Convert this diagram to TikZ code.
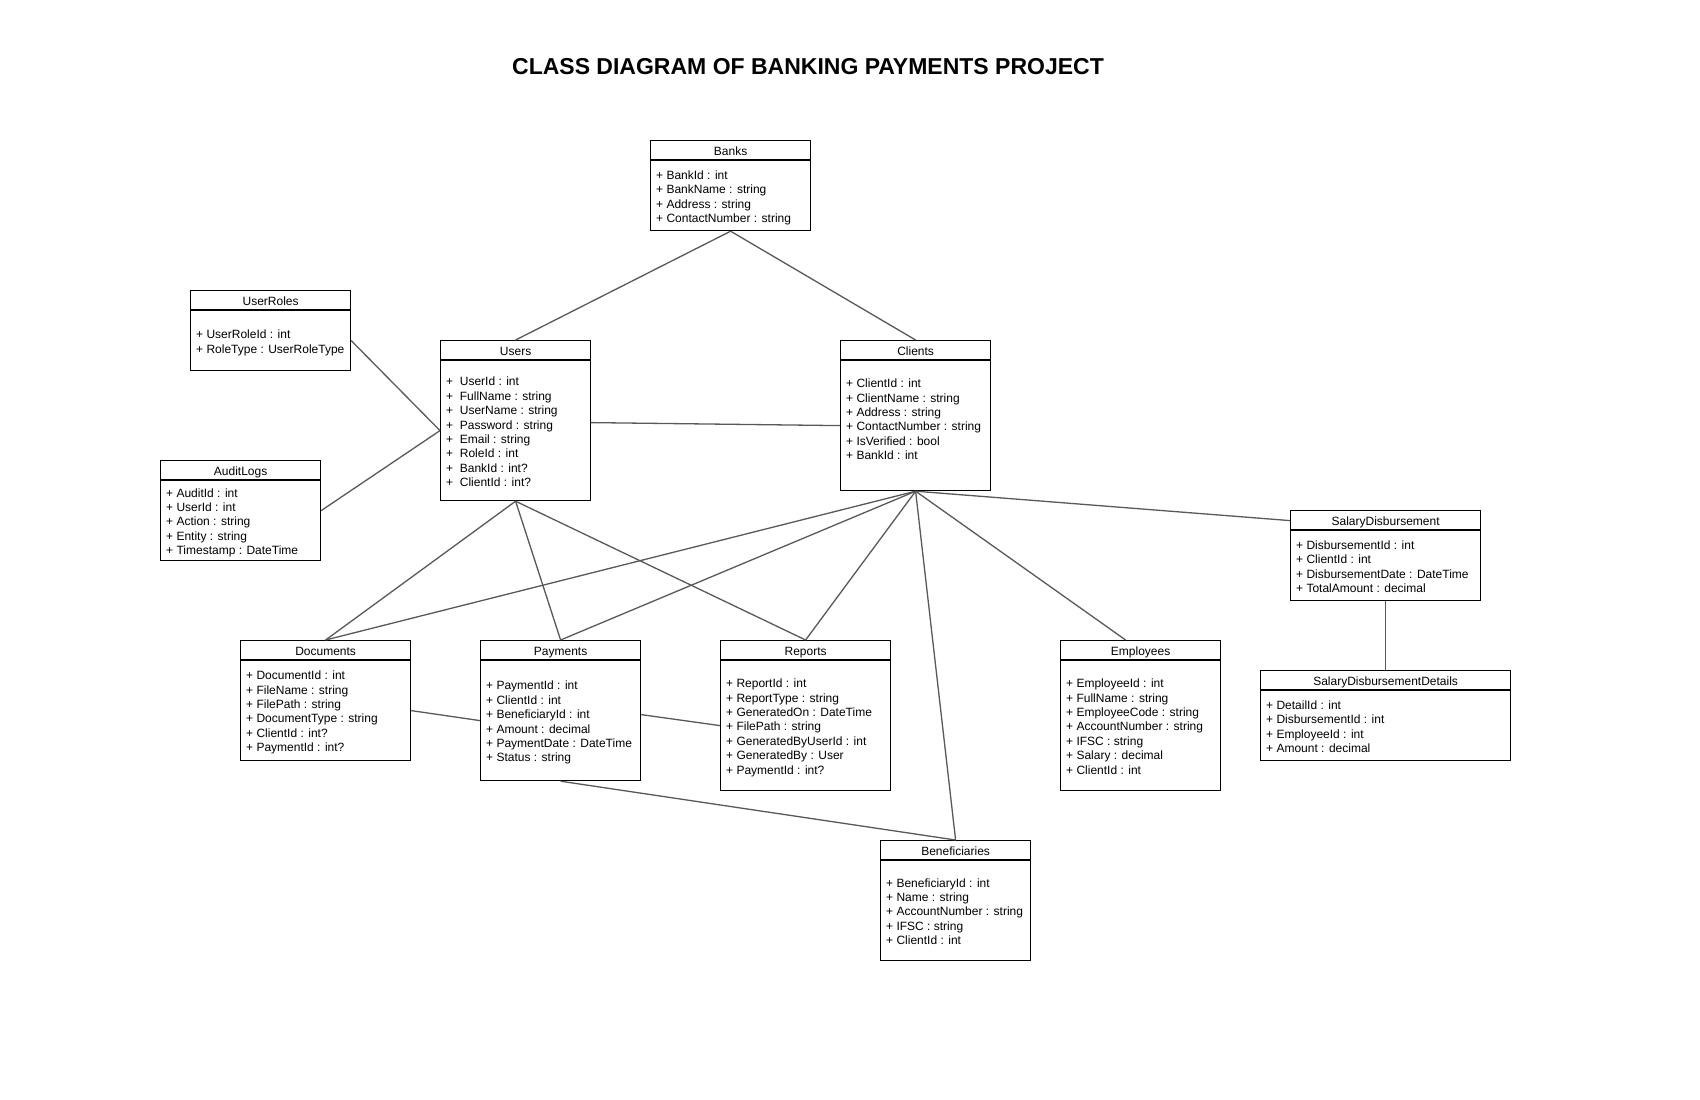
\documentclass[tikz,border=0pt]{standalone}
\usepackage{fontspec}
\setmainfont{Liberation Sans}
\usetikzlibrary{calc}
\tikzset{
  box/.style={draw=black, line width=1.2pt, fill=white, rectangle, inner sep=0pt},
  boxline/.style={draw=black, line width=1.2pt},
  hdr/.style={inner sep=0pt, font=\fontsize{12}{14.4}\selectfont},
  attr/.style={inner sep=0pt, font=\fontsize{12}{14.4}\selectfont},
  conn/.style={draw=black!65, line width=1.3pt},
  ttl/.style={inner sep=0pt, font=\fontsize{23}{28}\selectfont\bfseries}
}
\newcommand\umlbox[8]{%
  \node[box, minimum width=#4pt, minimum height=#5pt, anchor=north west] (#1) at (#2,#3) {};
  \draw[boxline] ([yshift=-20pt]#1.north west) -- ([yshift=-20pt]#1.north east);
  \node[hdr, anchor=base] (#1-title) at ([yshift=-15.2pt]#1.north) {#6};
  \node[attr, anchor=base west] (#1-attrs) at ($(#1.north west)+(6,#7+1.5)$) {\begin{tabular}[t]{@{}l@{}}#8\end{tabular}};
}
\begin{document}
\begin{tikzpicture}[x=1pt,y=-1pt]
\fill[white] (0,0) rectangle (1700,1100);
\useasboundingbox (0,0) rectangle (1700,1100);

\node[ttl, anchor=base] (title) at (808,74) {CLASS DIAGRAM OF BANKING PAYMENTS PROJECT};

\umlbox{banks}{650}{140}{160}{90}{Banks}{37.7}{+ BankId : int\\+ BankName : string\\+ Address : string\\+ ContactNumber : string}
\umlbox{userroles}{190}{290}{160}{80}{UserRoles}{47.3}{+ UserRoleId : int\\+ RoleType : UserRoleType}
\umlbox{users}{440}{340}{150}{160}{Users}{44.4}{+\ \ UserId : int\\+\ \ FullName : string\\+\ \ UserName : string\\+\ \ Password : string\\+\ \ Email : string\\+\ \ RoleId : int\\+\ \ BankId : int?\\+\ \ ClientId : int?}
\umlbox{auditlogs}{160}{460}{160}{100}{AuditLogs}{35.5}{+ AuditId : int\\+ UserId : int\\+ Action : string\\+ Entity : string\\+ Timestamp : DateTime}
\umlbox{clients}{840}{340}{150}{150}{Clients}{46.2}{+ ClientId : int\\+ ClientName : string\\+ Address : string\\+ ContactNumber : string\\+ IsVerified : bool\\+ BankId : int}
\umlbox{sd}{1290}{510}{190}{90}{SalaryDisbursement}{37.7}{+ DisbursementId : int\\+ ClientId : int\\+ DisbursementDate : DateTime\\+ TotalAmount : decimal}
\umlbox{documents}{240}{640}{170}{120}{Documents}{38.2}{+ DocumentId : int\\+ FileName : string\\+ FilePath : string\\+ DocumentType : string\\+ ClientId : int?\\+ PaymentId : int?}
\umlbox{payments}{480}{640}{160}{140}{Payments}{48.3}{+ PaymentId : int\\+ ClientId : int\\+ BeneficiaryId : int\\+ Amount : decimal\\+ PaymentDate : DateTime\\+ Status : string}
\umlbox{reports}{720}{640}{170}{150}{Reports}{46.1}{+ ReportId : int\\+ ReportType : string\\+ GeneratedOn : DateTime\\+ FilePath : string\\+ GeneratedByUserId : int\\+ GeneratedBy : User\\+ PaymentId : int?}
\umlbox{employees}{1060}{640}{160}{150}{Employees}{46.1}{+ EmployeeId : int\\+ FullName : string\\+ EmployeeCode : string\\+ AccountNumber : string\\+ IFSC : string\\+ Salary : decimal\\+ ClientId : int}
\umlbox{sdd}{1260}{670}{250}{90}{SalaryDisbursementDetails}{37.7}{+ DetailId : int\\+ DisbursementId : int\\+ EmployeeId : int\\+ Amount : decimal}
\umlbox{benef}{880}{840}{150}{120}{Beneficiaries}{45.5}{+ BeneficiaryId : int\\+ Name : string\\+ AccountNumber : string\\+ IFSC : string\\+ ClientId : int}

% connectors
\draw[conn] (banks.south) -- (users.north);
\draw[conn] (banks.south) -- (clients.north);
\draw[conn] ([yshift=-10pt]userroles.east) -- ([yshift=-10pt]users.west);
\draw[conn] (auditlogs.east) -- ([yshift=-10pt]users.west);
\draw[conn] ([yshift=-2pt]users.east) -- ([yshift=-10pt]clients.west);
\draw[conn] (users.south) -- (documents.north);
\draw[conn] (users.south) -- (payments.north);
\draw[conn] (users.south) -- (reports.north);
\draw[conn] (clients.south) -- (documents.north);
\draw[conn] (clients.south) -- (payments.north);
\draw[conn] (clients.south) -- (reports.north);
\draw[conn] (clients.south) -- (benef.north);
\draw[conn] (clients.south) -- ([xshift=-15pt]employees.north);
\draw[conn] (clients.south) -- ([yshift=35pt]sd.west);
\draw[conn] (sd.south) -- (sdd.north);
\draw[conn] ([yshift=-10pt]documents.east) -- ([yshift=-10pt]payments.west);
\draw[conn] ([yshift=-4pt]payments.east) -- ([yshift=-10pt]reports.west);
\draw[conn] (payments.south) -- (benef.north);
\end{tikzpicture}
\end{document}
